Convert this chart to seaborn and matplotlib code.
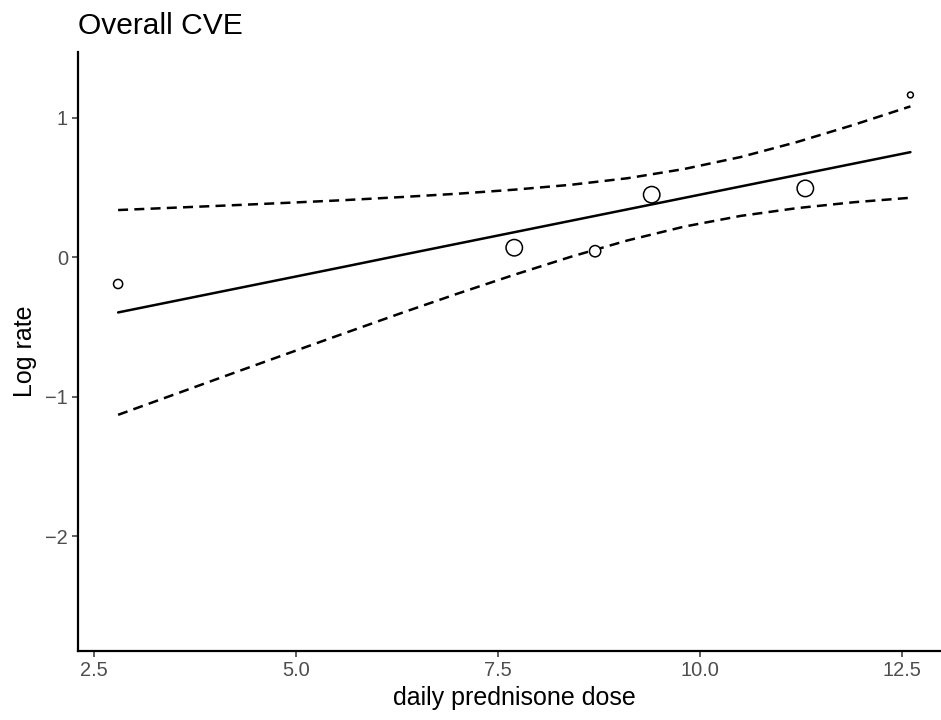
import pandas as pd
import seaborn as sns
import matplotlib.pyplot as plt

# observed study points (dose, log rate, relative weight)
dose = [2.8, 7.7, 8.7, 9.4, 11.3, 12.6]
log_rate = [-0.19, 0.07, 0.045, 0.45, 0.495, 1.165]
weight = [1.0, 2.9, 1.45, 2.9, 2.9, 0.5]

# fitted meta-regression line and its confidence band
grid = [2.8, 3.5, 4.2, 4.9, 5.6, 6.3, 7.0, 7.7, 8.4, 9.1, 9.8, 10.5, 11.2, 11.9, 12.6]
fit = [-0.394, -0.312, -0.230, -0.148, -0.066, 0.017, 0.099, 0.181, 0.263,
       0.345, 0.427, 0.509, 0.591, 0.673, 0.755]
upper = [0.340, 0.357, 0.374, 0.392, 0.411, 0.433, 0.457, 0.486, 0.521,
         0.568, 0.634, 0.720, 0.828, 0.951, 1.083]
lower = [-1.128, -0.981, -0.834, -0.688, -0.543, -0.399, -0.259, -0.124, 0.005,
         0.122, 0.221, 0.298, 0.354, 0.396, 0.428]

x_ticks = [2.5, 5.0, 7.5, 10.0, 12.5]
y_ticks = [-2, -1, 0, 1]

pts = pd.DataFrame({"dose": dose, "log_rate": log_rate, "weight": weight})
band = pd.DataFrame({"dose": grid, "fit": fit, "upper": upper, "lower": lower})

sns.set_theme(style="ticks")
plt.rcParams["font.family"] = ["Liberation Sans", "DejaVu Sans"]

fig = plt.figure(figsize=(9.41, 7.2), dpi=100)
ax = fig.add_axes([0.0834, 0.0958, 0.9262, 0.832])

# fitted line (solid) and confidence limits (dashed)
sns.lineplot(data=band, x="dose", y="fit", color="black", lw=1.8, ax=ax)
for col in ["upper", "lower"]:
    sns.lineplot(data=band, x="dose", y=col, color="black", lw=1.8,
                 linestyle=(0, (4, 2.5)), ax=ax)

# study points, size by weight
sns.scatterplot(data=pts, x="dose", y="log_rate", size="weight", sizes=(18, 140),
                facecolor="white", edgecolor="black", linewidth=1.1,
                legend=False, zorder=3, ax=ax)

ax.set_xlim(2.31, 13.09)
ax.set_ylim(-2.821, 1.473)
ax.set_xticks(x_ticks)
ax.set_xticklabels(["2.5", "5.0", "7.5", "10.0", "12.5"])
ax.set_yticks(y_ticks)
ax.set_yticklabels(["\u22122", "\u22121", "0", "1"])
ax.tick_params(labelsize=14.4, labelcolor="#4D4D4D", color="#333333",
               width=1.1, length=4)
for side in ["left", "bottom"]:
    ax.spines[side].set_linewidth(1.6)
    ax.spines[side].set_color("black")
sns.despine(ax=ax)

ax.set_xlabel("daily prednisone dose", fontsize=18, color="black", labelpad=4)
ax.set_ylabel("Log rate", fontsize=18, color="black", labelpad=6)
ax.set_title("Overall CVE", loc="left", fontsize=21.6, color="black", pad=13)

fig.savefig("out.png", dpi=100)
